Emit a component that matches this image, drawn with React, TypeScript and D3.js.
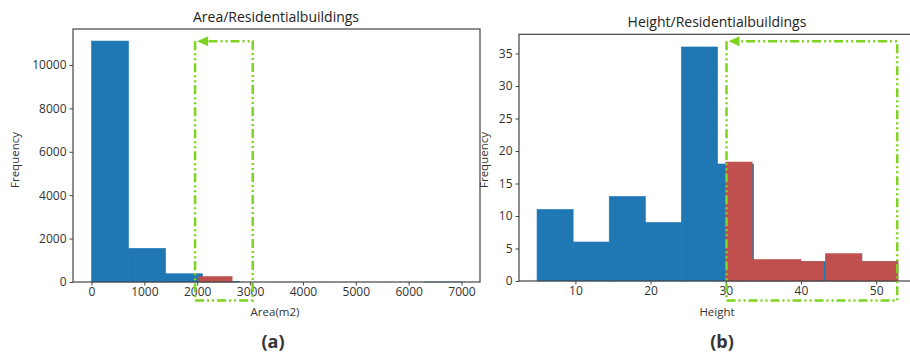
import React, { useEffect, useRef } from "react";
import * as d3 from "d3";

// left panel: area histogram
const areaEdges = [0, 700, 1400, 2100, 2800, 3500, 4200, 4900, 5600, 6300, 7000];
const areaCounts = [11100, 1550, 380, 30, 0, 0, 0, 0, 0, 1];
const areaRedStart = [2030];
const areaRedEnd = [2660];
const areaRedCounts = [250];
const areaXTicks = [0, 1000, 2000, 3000, 4000, 5000, 6000, 7000];
const areaYTicks = [0, 2000, 4000, 6000, 8000, 10000];
const areaBox = [1960, 3050]; // highlighted range

// right panel: height histogram
const heightEdges = [4.9, 9.7, 14.5, 19.3, 24.1, 28.9, 33.7, 38.5, 43.3, 48.1, 52.9];
const heightCounts = [11, 6, 13, 9, 36, 18, 3, 3, 4, 3];
const heightRedStart = [30, 33.5, 40, 43.3, 48.1];
const heightRedEnd = [33.5, 40, 43, 48.1, 52.9];
const heightRedCounts = [18.3, 3.3, 3, 4.2, 3];
const heightXTicks = [10, 20, 30, 40, 50];
const heightYTicks = [0, 5, 10, 15, 20, 25, 30, 35];
const heightBox = [30.1, 52.8];

const BLUE = "#1f77b4";
const RED = "#c0504d";
const GREEN = "#7ed321";
const FONT = "'Open Sans', sans-serif";

function drawPanel(svg, opt) {
  const { left, right, top, bottom, xDomain, yMax, edges, counts, redStart, redEnd, redCounts, xTicks, yTicks, box, title, xLabel, tag, tagX, yLabelX } = opt;

  const x = d3.scaleLinear().domain(xDomain).range([left, right]);
  const y = d3.scaleLinear().domain([0, yMax]).range([bottom, top]);

  const g = svg.append("g");

  // blue histogram
  g.selectAll(".blue")
    .data(counts)
    .join("rect")
    .attr("x", (d, i) => x(edges[i]))
    .attr("y", d => y(d))
    .attr("width", (d, i) => x(edges[i + 1]) - x(edges[i]))
    .attr("height", d => bottom - y(d))
    .style("fill", BLUE)
    .style("stroke", BLUE)
    .style("stroke-width", 0.6);

  // red overlay
  g.selectAll(".red")
    .data(redCounts)
    .join("rect")
    .attr("x", (d, i) => x(redStart[i]))
    .attr("y", d => y(d))
    .attr("width", (d, i) => x(redEnd[i]) - x(redStart[i]))
    .attr("height", d => bottom - y(d))
    .style("fill", RED)
    .style("stroke", RED)
    .style("stroke-width", 0.6);

  // frame
  g.append("rect")
    .attr("x", left)
    .attr("y", top)
    .attr("width", right - left)
    .attr("height", bottom - top)
    .style("fill", "none")
    .style("stroke", "#444")
    .style("stroke-width", 1.2);

  const xAxis = g.append("g")
    .attr("transform", `translate(0, ${bottom})`)
    .call(d3.axisBottom(x).tickValues(xTicks).tickSize(3.5).tickPadding(2).tickFormat(d3.format("d")));
  const yAxis = g.append("g")
    .attr("transform", `translate(${left}, 0)`)
    .call(d3.axisLeft(y).tickValues(yTicks).tickSize(3.5).tickPadding(3).tickFormat(d3.format("d")));
  [xAxis, yAxis].forEach(a => {
    a.select(".domain").remove();
    a.selectAll("line").style("stroke", "#444");
    a.selectAll("text").style("font-family", FONT).style("font-size", "12px").style("fill", "#333");
  });

  svg.append("text")
    .attr("x", opt.titleX)
    .attr("y", top - 7)
    .style("text-anchor", "middle")
    .style("font-family", FONT)
    .style("font-size", "14px")
    .style("fill", "#222")
    .text(title);

  svg.append("text")
    .attr("x", opt.xLabelX)
    .attr("y", 316)
    .style("text-anchor", "middle")
    .style("font-family", FONT)
    .style("font-size", "11.5px")
    .style("fill", "#333")
    .text(xLabel);

  svg.append("text")
    .attr("transform", `translate(${yLabelX}, 160) rotate(-90)`)
    .style("text-anchor", "middle")
    .style("font-family", FONT)
    .style("font-size", "11.5px")
    .style("fill", "#333")
    .text("Frequency");

  svg.append("text")
    .attr("x", tagX)
    .attr("y", 348)
    .style("text-anchor", "middle")
    .style("font-family", FONT)
    .style("font-size", "18px")
    .style("font-weight", "bold")
    .style("fill", "#333")
    .text(tag);

  // green dash-dot box with arrow
  const bx0 = x(box[0]);
  const bx1 = x(box[1]);
  const by0 = 41.3;
  const by1 = 300.5;
  svg.append("path")
    .attr("d", `M${bx0},${by1} L${bx1},${by1} L${bx1},${by0} L${bx0 + 8},${by0} M${bx0},${by0} L${bx0},${by1}`)
    .style("fill", "none")
    .style("stroke", GREEN)
    .style("stroke-width", 2.5)
    .style("stroke-dasharray", "9,3,2,3,2,3");
  svg.append("path")
    .attr("d", `M${bx0 + 2},${by0} L${bx0 + 13},${by0 - 5} L${bx0 + 13},${by0 + 5} Z`)
    .style("fill", GREEN);
}

export default function App() {
  const ref = useRef(null);

  useEffect(() => {
    const svg = d3.select(ref.current);
    svg.selectAll("*").remove();

    drawPanel(svg, {
      left: 73, right: 480, top: 29, bottom: 282,
      xDomain: [-350, 7350], yMax: 11655,
      edges: areaEdges, counts: areaCounts,
      redStart: areaRedStart, redEnd: areaRedEnd, redCounts: areaRedCounts,
      xTicks: areaXTicks, yTicks: areaYTicks, box: areaBox,
      title: "Area/Residentialbuildings", titleX: 276,
      xLabel: "Area(m2)", xLabelX: 275,
      tag: "(a)", tagX: 273, yLabelX: 19,
    });

    drawPanel(svg, {
      left: 519, right: 916, top: 34.3, bottom: 281,
      xDomain: [2.5, 55.3], yMax: 37.95,
      edges: heightEdges, counts: heightCounts,
      redStart: heightRedStart, redEnd: heightRedEnd, redCounts: heightRedCounts,
      xTicks: heightXTicks, yTicks: heightYTicks, box: heightBox,
      title: "Height/Residentialbuildings", titleX: 717,
      xLabel: "Height", xLabelX: 717,
      tag: "(b)", tagX: 722, yLabelX: 488,
    });
  }, []);

  return (
    <svg
      ref={ref}
      width={910}
      height={352}
      style={{ position: "absolute", left: 0, top: 0, background: "#fff" }}
    />
  );
}
